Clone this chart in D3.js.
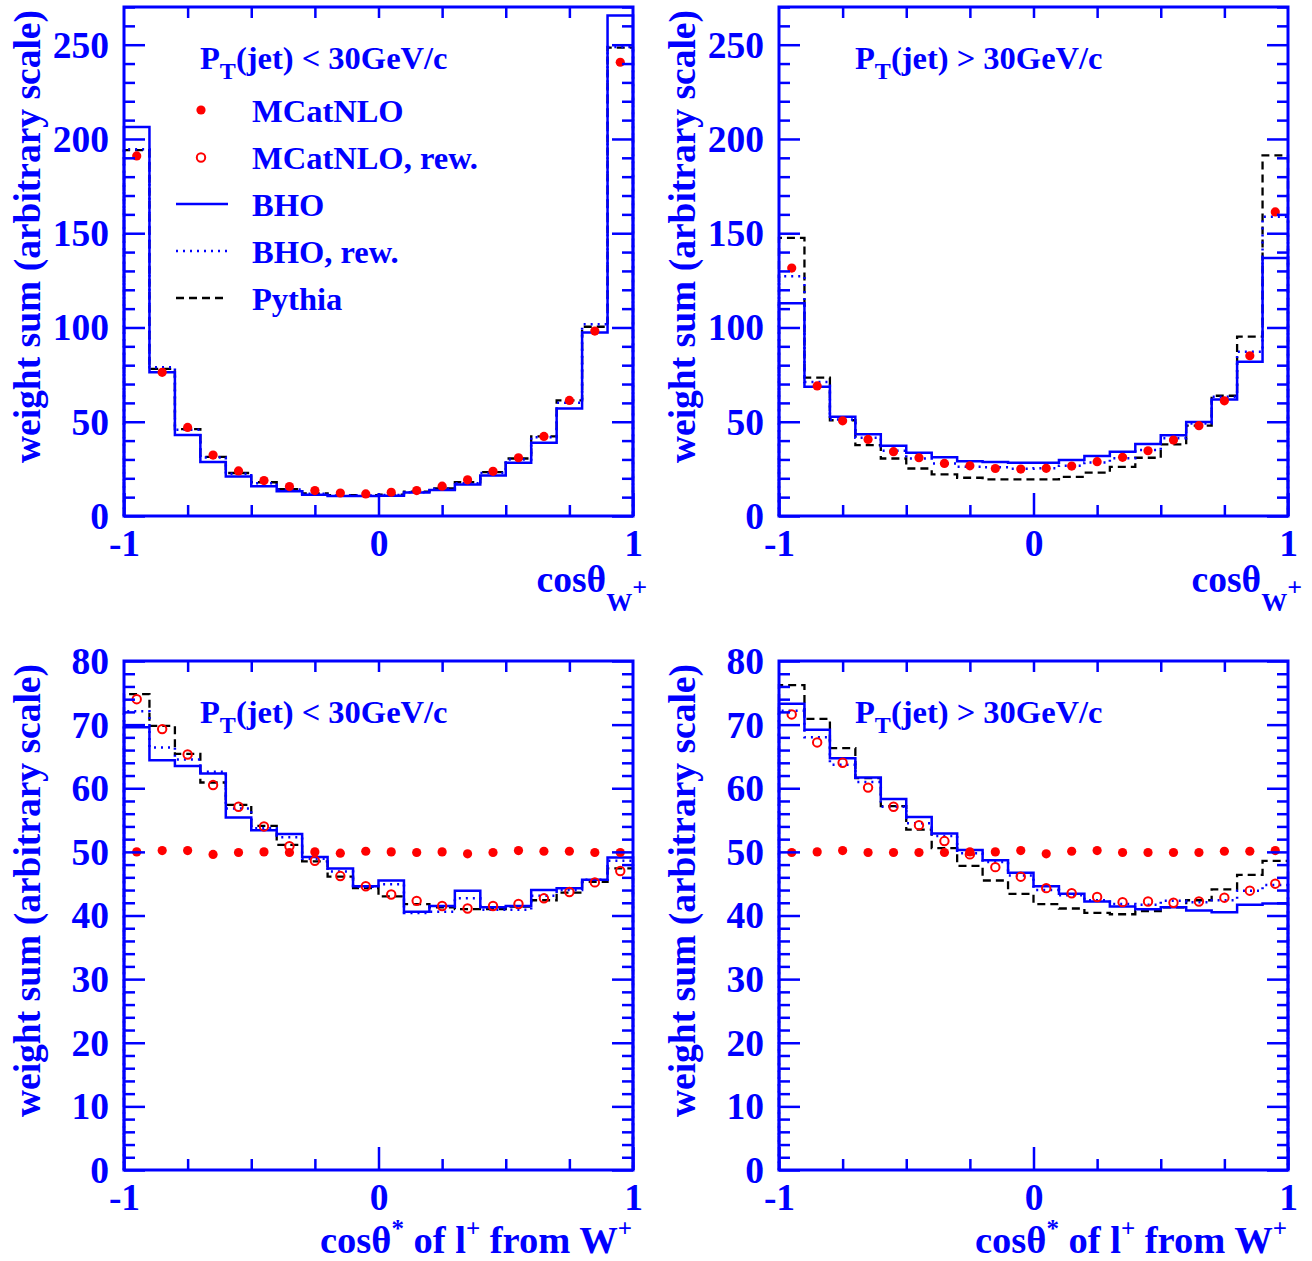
<!DOCTYPE html>
<html><head><meta charset="utf-8">
<script src="https://cdn.jsdelivr.net/npm/d3@7"></script>
<style>html,body{margin:0;padding:0;background:#fff;} svg{display:block;}</style>
</head><body>
<script>
// ---------- data ----------
const binEdges = [-1,-0.9,-0.8,-0.7,-0.6,-0.5,-0.4,-0.3,-0.2,-0.1,0,0.1,0.2,0.3,0.4,0.5,0.6,0.7,0.8,0.9,1];

// top-left: cos(theta_W+), PT(jet) < 30 GeV/c
const tlMcatnlo = [191.0,76.2,47.0,32.3,23.9,18.8,15.6,13.5,12.2,11.7,12.6,13.5,15.8,19.2,23.7,30.9,42.2,61.3,98.1,240.7];
const tlBho     = [206.3,76.2,43.0,28.7,21.0,15.8,13.1,11.3,10.6,10.6,10.8,12.4,13.8,16.7,21.5,28.2,38.9,57.0,97.4,265.5];
const tlBhoRew  = [194.6,78.9,45.7,31.0,22.4,17.4,14.0,11.8,10.9,10.9,11.1,12.6,14.4,17.4,22.8,30.0,41.8,60.1,101.7,248.8];
const tlPythia  = [194.1,78.0,46.1,31.4,22.8,17.9,14.3,12.0,11.1,11.1,11.3,12.9,14.7,17.9,23.3,30.5,42.2,61.3,100.4,248.4];

// top-right: cos(theta_W+), PT(jet) > 30 GeV/c
const trMcatnlo = [131.5,69.0,50.5,40.6,34.1,30.9,27.9,26.6,25.2,24.9,25.3,26.5,28.8,31.1,34.6,40.3,47.9,61.1,85.0,161.3];
const trBho     = [112.9,68.5,52.6,43.4,37.2,33.5,31.1,29.1,28.6,28.2,28.3,29.7,31.8,34.1,38.2,42.9,49.8,61.8,81.8,136.9];
const trBhoRew  = [127.2,71.1,51.2,41.5,34.6,30.5,27.9,26.1,25.8,25.1,25.3,26.7,28.4,30.6,35.0,41.2,49.1,63.3,87.1,158.7];
const trPythia  = [147.5,73.4,50.8,37.6,30.5,25.2,22.1,20.3,19.4,19.4,19.4,20.8,23.0,26.1,30.9,38.0,47.9,63.8,95.1,191.3];

// bottom-left: cos(theta*) of l+ from W+, PT(jet) < 30 GeV/c
const blMcatnlo    = [50.0,50.2,50.2,49.6,49.9,50.0,49.9,50.0,49.8,50.1,50.0,49.9,50.0,49.7,49.9,50.2,50.1,50.1,49.9,49.9];
const blMcatnloRew = [74.0,69.3,65.3,60.5,57.1,54.0,50.9,48.6,46.2,44.6,43.3,42.3,41.5,41.1,41.5,41.8,42.7,43.7,45.2,47.0];
const blBho        = [69.6,64.4,63.5,62.3,55.4,53.4,52.8,49.2,47.4,44.6,45.5,40.6,41.5,43.9,41.3,41.5,44.0,44.3,45.6,49.1];
const blBhoRew     = [72.1,66.4,64.5,62.6,56.8,53.7,52.3,48.9,46.9,44.5,44.9,40.4,40.6,42.7,40.9,40.9,43.1,44.0,45.6,48.6];
const blPythia     = [74.8,69.8,65.4,60.9,57.4,54.1,51.1,48.5,46.1,44.3,43.0,41.8,41.3,41.0,41.0,41.4,42.4,43.6,45.3,47.4];

// bottom-right: cos(theta*) of l+ from W+, PT(jet) > 30 GeV/c
const brMcatnlo    = [49.9,50.0,50.2,49.9,49.9,49.9,49.9,50.0,50.0,50.2,49.7,50.1,50.2,49.9,49.9,49.9,49.9,50.1,50.1,50.2];
const brMcatnloRew = [71.6,67.2,64.0,60.1,57.1,54.2,51.7,49.6,47.6,46.1,44.3,43.5,42.9,42.1,42.2,42.0,42.2,42.8,43.9,45.0];
const brBho        = [73.3,69.2,64.7,61.7,58.3,55.5,52.9,50.3,48.7,46.7,44.6,43.4,42.2,41.4,41.0,41.3,40.8,40.5,41.7,41.9];
const brBhoRew     = [72.2,68.0,63.7,61.0,57.1,54.5,52.5,49.8,48.4,46.3,44.0,43.2,42.4,41.8,41.7,42.3,42.1,42.4,43.9,44.8];
const brPythia     = [76.2,70.9,66.3,61.6,57.2,53.5,50.6,47.8,45.5,43.4,41.8,41.1,40.4,40.2,40.7,41.3,42.4,44.1,46.4,48.6];

// ticks / labels
const yMajorTop    = [0,50,100,150,200,250];
const yMajorBottom = [0,10,20,30,40,50,60,70,80];
const xTickLabels  = [-1,0,1];
const xSecondary   = [-0.75,-0.5,-0.25,0.25,0.5,0.75];
const legendLabels = ["MCatNLO","MCatNLO, rew.","BHO","BHO, rew.","Pythia"];
const yTitle = "weight sum (arbitrary scale)";

// ---------- drawing ----------
const FONT = "'Liberation Serif','Times New Roman',Times,serif";
const BLUE = "#0000ff", RED = "#ff0000";
const S = 509;
const svg = d3.select("body").append("svg").attr("width",1312).attr("height",1261);
svg.append("rect").attr("width",1312).attr("height",1261).attr("fill","#fff");

function styleAxis(sel, labelSize){
  sel.select(".domain").remove();
  sel.selectAll(".tick line").attr("stroke",BLUE).attr("stroke-width",2.5);
  sel.selectAll(".tick text").attr("fill",BLUE)
     .style("font-family",FONT).style("font-weight","bold").style("font-size",labelSize+"px");
}

function drawPanel(cfg){
  const L = cfg.left, T = cfg.top;
  const g = svg.append("g").attr("transform",`translate(${L},${T})`);
  const x = d3.scaleLinear().domain([-1,1]).range([0,S]);
  const y = d3.scaleLinear().domain([0,cfg.ymax]).range([S,0]);
  const line = d3.line().x(d=>x(d[0])).y(d=>y(d[1]));
  const steps = vals => {
    const pts = [[binEdges[0],0]];
    vals.forEach((v,i)=>{ pts.push([binEdges[i],v]); pts.push([binEdges[i+1],v]); });
    pts.push([binEdges[binEdges.length-1],0]);
    return pts;
  };
  const centers = vals => vals.map((v,i)=>[(binEdges[i]+binEdges[i+1])/2, v]);

  // histograms
  g.append("path").attr("d",line(steps(cfg.pythia))).attr("fill","none")
    .attr("stroke","#000").attr("stroke-width",2.3).attr("stroke-dasharray","8,5");
  g.append("path").attr("d",line(steps(cfg.bho))).attr("fill","none")
    .attr("stroke",BLUE).attr("stroke-width",2.5);
  g.append("path").attr("d",line(steps(cfg.bhoRew))).attr("fill","none")
    .attr("stroke",BLUE).attr("stroke-width",2.5).attr("stroke-dasharray","2,5");

  // markers
  g.selectAll("circle.mc").data(centers(cfg.mc)).join("circle").attr("class","mc")
    .attr("cx",d=>x(d[0])).attr("cy",d=>y(d[1])).attr("r",4.6).attr("fill",RED);
  if (cfg.mcRew){
    g.selectAll("circle.mcr").data(centers(cfg.mcRew)).join("circle").attr("class","mcr")
      .attr("cx",d=>x(d[0])).attr("cy",d=>y(d[1])).attr("r",4.2)
      .attr("fill","none").attr("stroke",RED).attr("stroke-width",2);
  }

  // axes
  const minor = d3.range(0, cfg.ymax+0.001, cfg.minorStep).filter(v=>!cfg.majors.includes(v));
  const la = g.append("g").call(d3.axisLeft(y).tickValues(cfg.majors).tickSize(-21).tickPadding(15).tickFormat(d3.format("d")));
  styleAxis(la, 37.5);
  la.selectAll(".tick text").attr("dy","0.33em");
  const lm = g.append("g").call(d3.axisLeft(y).tickValues(minor).tickSize(-11).tickFormat(""));
  styleAxis(lm, 10);
  const ra = g.append("g").attr("transform",`translate(${S},0)`).call(d3.axisRight(y).tickValues(cfg.majors).tickSize(-21).tickFormat(""));
  styleAxis(ra, 10);
  const rm = g.append("g").attr("transform",`translate(${S},0)`).call(d3.axisRight(y).tickValues(minor).tickSize(-11).tickFormat(""));
  styleAxis(rm, 10);
  const ba = g.append("g").attr("transform",`translate(0,${S})`).call(d3.axisBottom(x).tickValues(xTickLabels).tickSize(-23).tickFormat(d=>d<0?"-"+Math.abs(d):String(d)));
  styleAxis(ba, 37.5);
  ba.selectAll(".tick text").attr("y",40).attr("dy",null);
  const bm = g.append("g").attr("transform",`translate(0,${S})`).call(d3.axisBottom(x).tickValues(xSecondary).tickSize(-11).tickFormat(""));
  styleAxis(bm, 10);
  const ta = g.append("g").call(d3.axisTop(x).tickValues(xSecondary.concat([0])).tickSize(-11).tickFormat(""));
  styleAxis(ta, 10);

  // frame
  g.append("rect").attr("x",0).attr("y",0).attr("width",S).attr("height",S)
    .attr("fill","none").attr("stroke",BLUE).attr("stroke-width",3);

  const txt = (sel)=>sel.attr("fill",BLUE).style("font-family",FONT).style("font-weight","bold");

  // y title
  txt(svg.append("text")).attr("transform",`translate(${L-84},${T+3}) rotate(-90)`)
    .attr("text-anchor","end").style("font-size","37.5px").text(yTitle);

  // x title
  if (cfg.xtitle === "W"){
    const t = txt(svg.append("text")).attr("x",L+S+14).attr("y",T+S+76)
      .attr("text-anchor","end").style("font-size","37.5px");
    t.append("tspan").text("cos\u03b8");
    t.append("tspan").attr("dy",19).style("font-size","26px").text("W");
    t.append("tspan").attr("dy",-15).style("font-size","26px").text("+");
  } else {
    const t = txt(svg.append("text")).attr("x",L+S-1).attr("y",T+S+83)
      .attr("text-anchor","end").style("font-size","38.5px");
    t.append("tspan").text("cos\u03b8");
    t.append("tspan").attr("dy",-16).style("font-size","25px").text("*");
    t.append("tspan").attr("dy",16).text(" of l");
    t.append("tspan").attr("dy",-16).style("font-size","25px").text("+");
    t.append("tspan").attr("dy",16).text(" from W");
    t.append("tspan").attr("dy",-16).style("font-size","25px").text("+");
  }

  // PT label
  const p = txt(svg.append("text")).attr("x",L+76).attr("y",T+62).style("font-size","32.5px");
  p.append("tspan").text("P");
  p.append("tspan").attr("dy",10).style("font-size","24px").text("T");
  p.append("tspan").attr("dy",-10).text(`(jet) ${cfg.cut} 30GeV/c`);

  // legend
  if (cfg.legend){
    const rows = [103,150.5,197,244,291];
    rows.forEach((cy,i)=>{
      const yy = T+cy;
      if (i===0) svg.append("circle").attr("cx",L+77).attr("cy",yy).attr("r",4.6).attr("fill",RED);
      if (i===1) svg.append("circle").attr("cx",L+77).attr("cy",yy).attr("r",4.2).attr("fill","none").attr("stroke",RED).attr("stroke-width",2);
      if (i===2) svg.append("line").attr("x1",L+52).attr("x2",L+104).attr("y1",yy).attr("y2",yy).attr("stroke",BLUE).attr("stroke-width",2.5);
      if (i===3) svg.append("line").attr("x1",L+52).attr("x2",L+104).attr("y1",yy).attr("y2",yy).attr("stroke",BLUE).attr("stroke-width",2.5).attr("stroke-dasharray","2,5");
      if (i===4) svg.append("line").attr("x1",L+52).attr("x2",L+104).attr("y1",yy).attr("y2",yy).attr("stroke","#000").attr("stroke-width",2.3).attr("stroke-dasharray","8,5");
      txt(svg.append("text")).attr("x",L+128).attr("y",yy+11.5).style("font-size","32.5px").text(legendLabels[i]);
    });
  }
}

drawPanel({left:124, top:7, ymax:270, majors:yMajorTop, minorStep:10, mc:tlMcatnlo, bho:tlBho, bhoRew:tlBhoRew, pythia:tlPythia, xtitle:"W", cut:"<", legend:true});
drawPanel({left:779, top:7, ymax:270, majors:yMajorTop, minorStep:10, mc:trMcatnlo, bho:trBho, bhoRew:trBhoRew, pythia:trPythia, xtitle:"W", cut:">"});
drawPanel({left:124, top:661, ymax:80, majors:yMajorBottom, minorStep:2, mc:blMcatnlo, mcRew:blMcatnloRew, bho:blBho, bhoRew:blBhoRew, pythia:blPythia, xtitle:"l", cut:"<"});
drawPanel({left:779, top:661, ymax:80, majors:yMajorBottom, minorStep:2, mc:brMcatnlo, mcRew:brMcatnloRew, bho:brBho, bhoRew:brBhoRew, pythia:brPythia, xtitle:"l", cut:">"});
</script>
</body></html>
